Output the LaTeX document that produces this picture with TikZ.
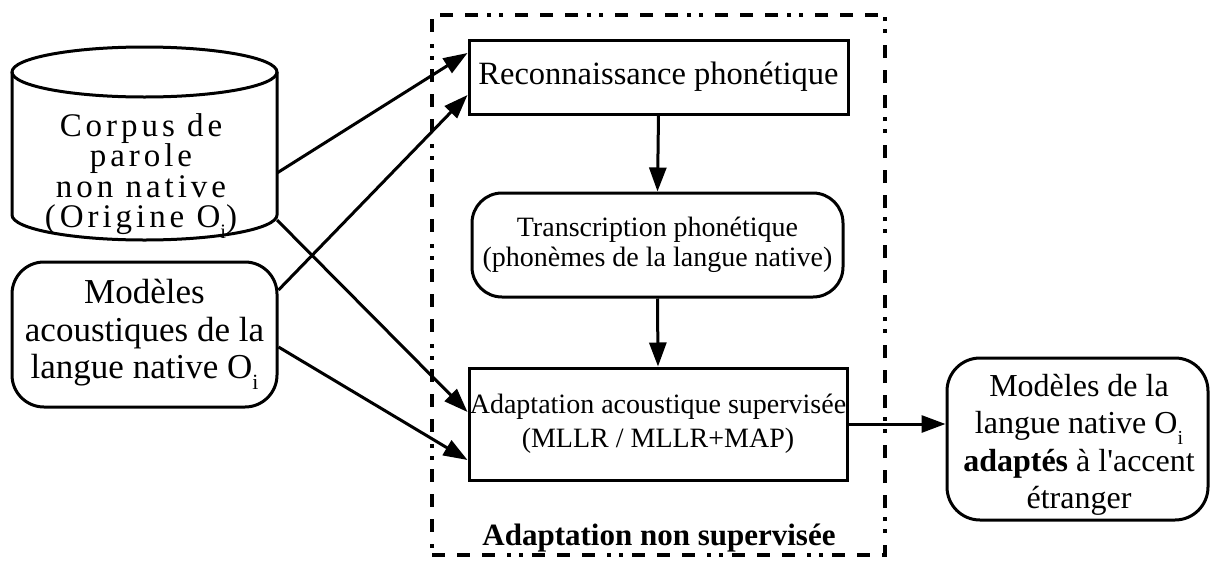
\documentclass[tikz,border=0pt]{standalone}
\usepackage{fontspec}
\usepackage{graphicx}
\setmainfont{Liberation Serif}
\newfontfamily\spacedserif[LetterSpace=12]{Liberation Serif}
\usetikzlibrary{arrows.meta}
% lowered small "i" used as a subscript in text
\newcommand\subi{\raisebox{-0.32em}{\scalebox{0.62}{i}}}
\tikzset{
  box/.style={draw, line width=3pt, inner sep=0pt, align=center},
  roundbox/.style={box, rounded corners=32pt},
  link/.style={line width=3pt, -{Triangle[length=24pt,width=17pt]}},
  frameline/.style={line width=4pt,
    dash pattern=on 13pt off 12pt on 13pt off 12pt on 13pt off 12pt on 4pt off 8pt on 4pt off 9pt},
}
\begin{document}
\begin{tikzpicture}[x=1pt,y=-1pt]
\useasboundingbox (0,0) rectangle (1211,560);

% outer dash-dot frame
\node[frameline, draw, inner sep=0pt, minimum width=453pt, minimum height=540pt] (frame) at (658.5,285) {};
\node[anchor=base, font=\fontsize{31}{34}\selectfont\bfseries] (framelabel) at (659,545) {Adaptation non supervisée};

% speech corpus (cylinder)
\draw[line width=3pt] (12,72) -- (12,215) arc[start angle=180, end angle=0, x radius=132.5, y radius=25] -- (277,72);
\draw[line width=3pt] (144.5,72) ellipse[x radius=132.5, y radius=25];
\node[align=center, inner sep=0pt, font=\fontsize{33}{30.5}\spacedserif] (corpus) at (141,176)
  {Corpus de\\parole\\non native\\(Origine O\subi)};
\coordinate (corpusA) at (277,173);
\coordinate (corpusB) at (277,220);

% acoustic models
\node[roundbox, minimum width=265pt, minimum height=145pt, font=\fontsize{35}{37.5}\selectfont] (models) at (144.5,334.5)
  {Modèles\\acoustiques de la\\langue native O\subi};

% processing chain
\node[box, minimum width=379pt, minimum height=74pt, font=\fontsize{32.5}{36}\selectfont] (recon) at (658.5,77)
  {Reconnaissance phonétique};
\node[roundbox, rounded corners=30pt, minimum width=371pt, minimum height=104pt, font=\fontsize{28}{30}\selectfont] (trans) at (657.5,245)
  {Transcription phonétique\\(phonèmes de la langue native)};
\node[box, minimum width=378pt, minimum height=112pt, font=\fontsize{28}{34}\selectfont] (adapt) at (658,424)
  {Adaptation acoustique supervisée\\(MLLR / MLLR+MAP)};

% adapted models
\node[roundbox, rounded corners=33pt, minimum width=261pt, minimum height=162pt] (out) at (1077.5,439) {};
\node[align=center, inner sep=0pt, font=\fontsize{32}{37.5}\selectfont] (outtext) at (1079,445)
  {Modèles de la\\langue native O\subi\\\textbf{adaptés} à l\textquotesingle accent\\étranger};

% connectors
\draw[link] (corpusA) -- ([yshift=24pt]recon.west);
\draw[link] ([yshift=44.5pt]models.east) -- ([yshift=-18pt]recon.west);
\draw[link] (corpusB) -- ([yshift=12pt]adapt.west);
\draw[link] ([yshift=-12.5pt]models.east) -- ([yshift=-36pt]adapt.west);
\draw[link] (recon.south) -- (trans.north);
\draw[link] (trans.south) -- (adapt.north);
\draw[link] (adapt.east) -- (out.west |- adapt.east);
\end{tikzpicture}
\end{document}
